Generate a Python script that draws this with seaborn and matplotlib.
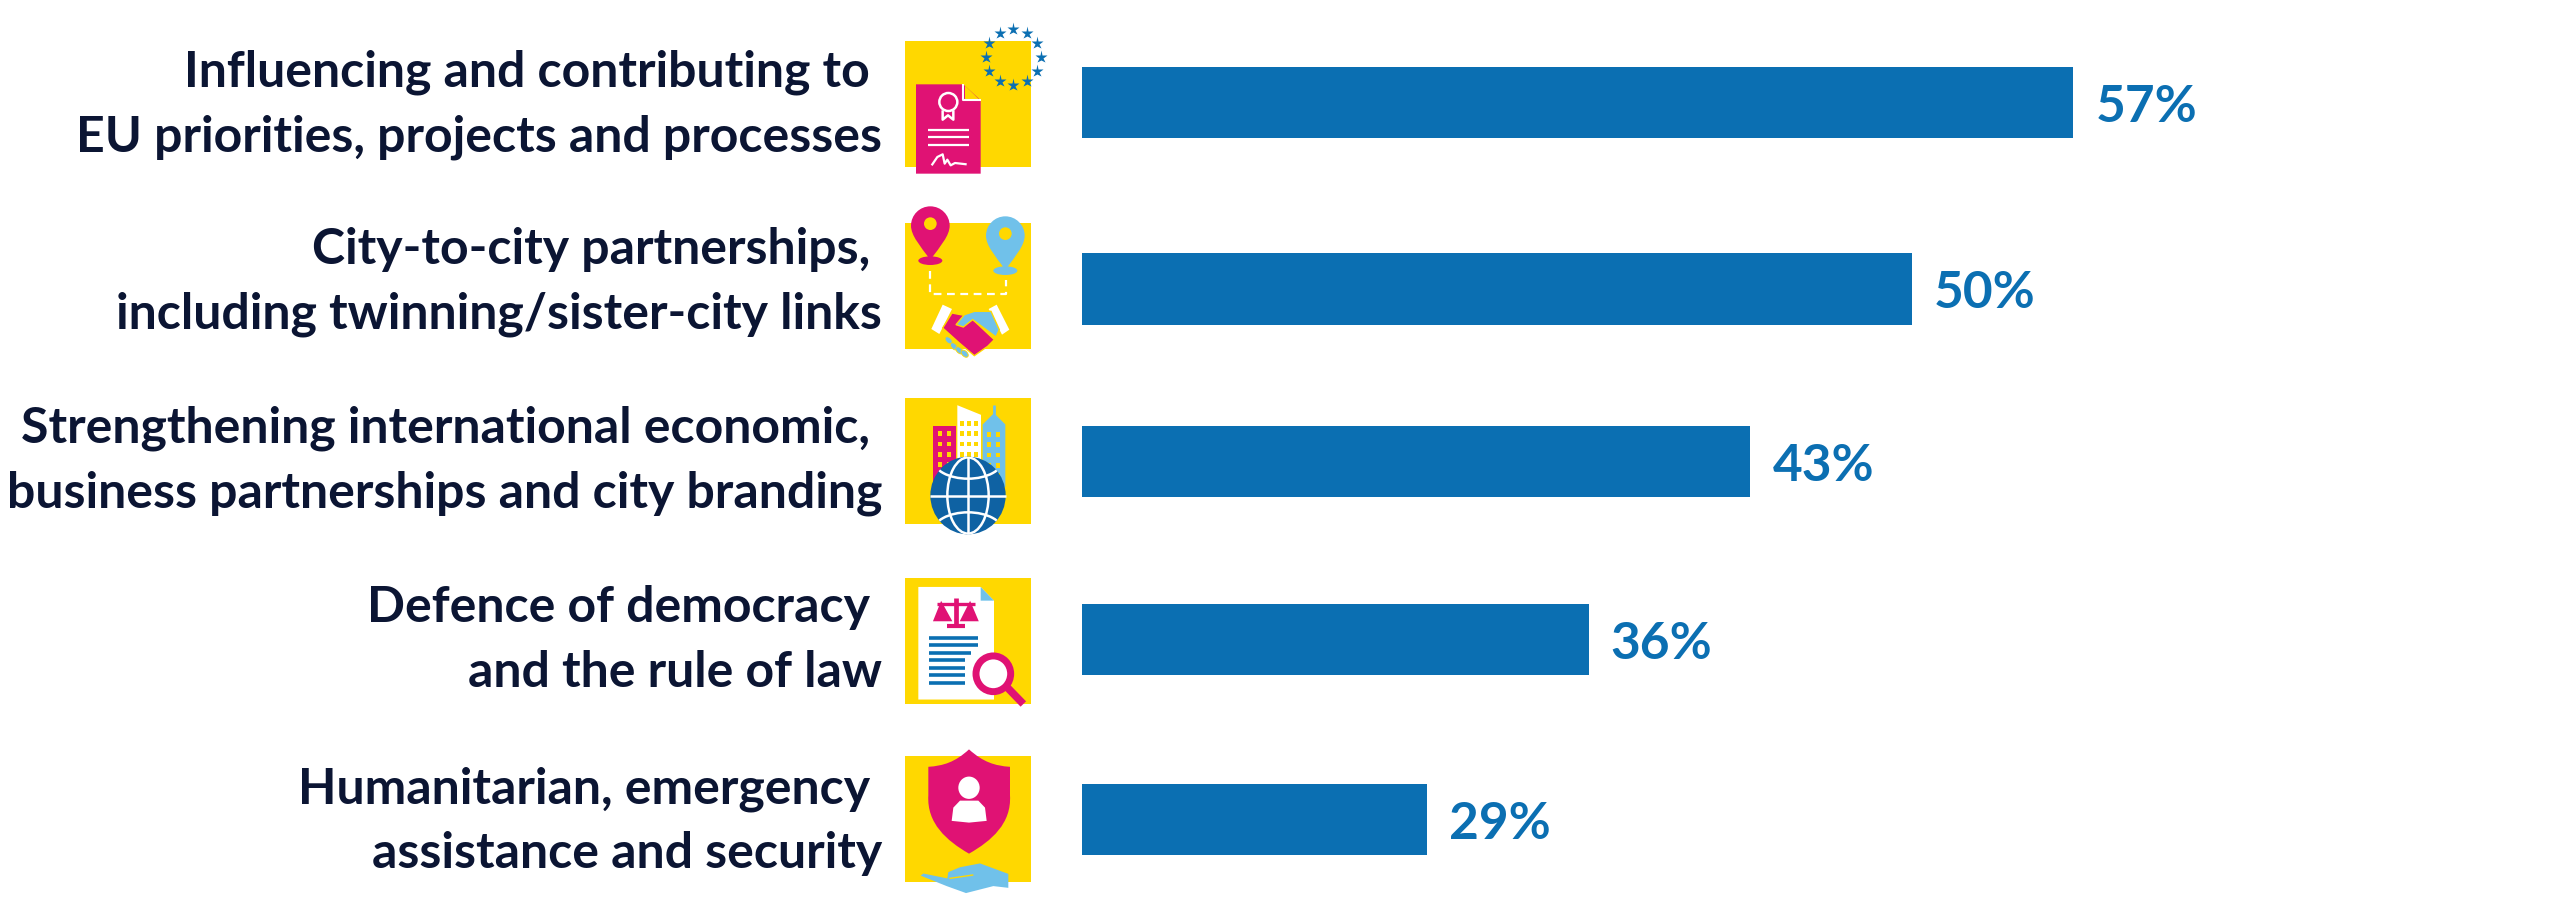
import numpy as np
import pandas as pd
import seaborn as sns
import matplotlib.pyplot as plt
from matplotlib.patches import Rectangle, Circle, Ellipse, Polygon, PathPatch
from matplotlib.path import Path
from matplotlib.transforms import Affine2D

# dados do grafico
categories = [
    "Influencing and contributing to \nEU priorities, projects and processes",
    "City-to-city partnerships, \nincluding twinning/sister-city links",
    "Strengthening international economic, \nbusiness partnerships and city branding",
    "Defence of democracy \nand the rule of law",
    "Humanitarian, emergency \nassistance and security",
]
shares = [57, 50, 43, 36, 29]

# layout em pixels
BAR_TOPS = [67, 253, 426, 604, 784]
BAR_BOTTOMS = [138, 325, 497, 675, 855]
TEXT_CENTRES = [105, 282, 461, 640, 821]
ICON_TOPS = [41, 223, 398, 578, 756]
ICON_LEFT = 905
BAR_LEFT = 1082
AXIS_START = 14.04
PX_PER_UNIT = 23.07

BLUE = "#0B6FB2"
NAVY = "#0B1533"
YELLOW = "#FFD800"
PINK = "#E01274"
SKY = "#70C1EA"
GLOBE = "#0F62A3"

W, H = 2560, 900
fig = plt.figure(figsize=(W / 100, H / 100), dpi=100, facecolor="white")

bg = fig.add_axes([0, 0, 1, 1])
bg.set_xlim(0, W)
bg.set_ylim(H, 0)
bg.axis("off")


def local(x0, y0, ox, oy, sy=1 / 3):
    # coordenadas do recorte (3x) para pixels da figura
    return Affine2D().translate(-ox, -oy).scale(1 / 3, sy).translate(x0, y0) + bg.transData


def add(p, t, z=3):
    p.set_transform(t)
    p.set_zorder(z)
    bg.add_patch(p)
    return p


def line(xs, ys, t, color="white", lw=1.6, z=4, **kw):
    return bg.plot(xs, ys, color=color, lw=lw, transform=t, zorder=z, solid_capstyle="butt", **kw)


def square(y0):
    bg.add_patch(Rectangle((ICON_LEFT, y0), 126, 126, fc=YELLOW, ec="none", zorder=2))


def pin(t, cx, cy, color, hole):
    verts = [(cx, cy + 102), (cx - 30, cy + 62), (cx - 58, cy + 30), (cx - 58, cy),
             (cx - 58, cy - 32), (cx - 32, cy - 58), (cx, cy - 58),
             (cx + 32, cy - 58), (cx + 58, cy - 32), (cx + 58, cy),
             (cx + 58, cy + 30), (cx + 30, cy + 62), (cx, cy + 102), (cx, cy + 102)]
    codes = [Path.MOVETO] + [Path.CURVE4] * 12 + [Path.CLOSEPOLY]
    add(PathPatch(Path(verts, codes), fc=color, ec="none"), t)
    add(Ellipse((cx, cy + 105), 72, 26, fc=color, ec="none"), t)
    add(Circle((cx, cy - 6), 19, fc=hole, ec="none"), t, 4)


def icon_document(y0):
    square(y0)
    t = local(ICON_LEFT, y0, 135, 122)
    add(Polygon([(168, 252), (310, 252), (362, 300), (362, 520), (168, 520)], fc=PINK, ec="none"), t)
    line([310, 310, 362], [252, 300, 300], t, lw=1.5)
    add(Polygon([(315, 256), (356, 296), (315, 296)], fc=YELLOW, ec="none"), t)
    add(Circle((265, 305), 27, fc="none", ec="white", lw=1.8), t, 4)
    line([248, 248, 264, 280, 280], [330, 358, 345, 358, 330], t, lw=1.8)
    for yy in [388, 411, 433]:
        line([203, 328], [yy, yy], t, lw=1.6)
    line([215, 232, 248, 254, 262, 272, 285, 320], [495, 470, 462, 490, 478, 495, 488, 492], t, lw=1.6)
    for a in np.arange(0, 360, 30):
        bg.plot(460 + 83 * np.cos(np.radians(a)), 170 + 83 * np.sin(np.radians(a)), marker="*",
                ms=9.5, color=BLUE, mec="none", transform=t, zorder=5)


def icon_pins(y0):
    square(y0)
    t = local(ICON_LEFT, y0, 137, 670)
    pin(t, 213, 678, PINK, YELLOW)
    pin(t, 438, 708, SKY, YELLOW)
    line([213, 213, 440, 440], [815, 882, 882, 840], t, lw=1.6, z=3.5, linestyle=(0, (3.5, 2.5)))
    # aperto de maos
    add(Polygon([(250, 915), (278, 928), (240, 1003), (216, 988)], fc="white", ec="none"), t, 4)
    add(Polygon([(412, 915), (388, 928), (428, 1005), (450, 990)], fc="white", ec="none"), t, 4)
    add(Polygon([(278, 940), (330, 950), (405, 1020), (385, 1040), (345, 1068), (300, 1030), (250, 985)],
                fc=PINK, ec=YELLOW, lw=1), t, 4)
    add(Polygon([(395, 935), (345, 935), (315, 945), (290, 975), (312, 982), (340, 960),
                 (410, 1012), (420, 990)], fc=SKY, ec=YELLOW, lw=1), t, 5)
    for cx, cy in [(268, 1022), (284, 1040), (300, 1052), (316, 1062)]:
        add(Ellipse((cx, cy), 26, 16, angle=45, fc=SKY, ec=YELLOW, lw=0.6), t, 5)


def icon_city(y0):
    square(y0)
    sy = 126 / 367
    t = local(ICON_LEFT, y0, 135, 111, sy)
    add(Rectangle((219, 192), 70, 170, fc=PINK, ec="none"), t)
    add(Polygon([(292, 132), (363, 160), (363, 320), (292, 320)], fc="white", ec="none"), t)
    add(Polygon([(368, 188), (402, 155), (436, 188), (436, 370), (368, 370)], fc=SKY, ec="none"), t)
    line([402, 402], [132, 160], t, color=SKY, lw=2)
    for xx in [233, 260]:
        for yy in [208, 238, 268, 298]:
            add(Rectangle((xx, yy), 13, 14, fc=YELLOW, ec="none"), t, 3.5)
    for xx in [301, 321, 342]:
        for yy in [178, 208, 238, 268]:
            add(Rectangle((xx, yy), 12, 14, fc=YELLOW, ec="none"), t, 3.5)
    for xx in [381, 408]:
        for yy in [210, 240, 270, 300, 330]:
            add(Rectangle((xx, yy), 13, 14, fc=YELLOW, ec="none"), t, 3.5)
    globe = add(Circle((324, 395), 113, fc=GLOBE, ec="none"), t, 4)
    parts = [Ellipse((324, 395), 124, 222, fc="none", ec="white", lw=1.8),
             Ellipse((324, 290), 210, 112, fc="none", ec="white", lw=1.8),
             Ellipse((324, 500), 210, 112, fc="none", ec="white", lw=1.8)]
    for p in parts:
        add(p, t, 5).set_clip_path(globe)
    line([211, 437], [395, 395], t, lw=1.8, z=5)
    line([324, 324], [282, 508], t, lw=1.8, z=5)


def icon_law(y0):
    square(y0)
    sy = 126 / 367
    t = local(ICON_LEFT, y0, 135, 636, sy)
    add(Polygon([(175, 662), (362, 662), (402, 702), (402, 990), (175, 990)], fc="white", ec="none"), t)
    add(Polygon([(362, 662), (402, 702), (362, 702)], fc=SKY, ec="none"), t, 3.5)
    line([288, 288], [695, 775], t, color=PINK, lw=3.4)
    line([232, 344], [712, 712], t, color=PINK, lw=2.4)
    line([260, 316], [777, 777], t, color=PINK, lw=3)
    add(Polygon([(225, 758), (244, 712), (270, 758)], fc=PINK, ec=PINK, lw=2), t, 4)
    add(Polygon([(306, 758), (330, 712), (350, 758)], fc=PINK, ec=PINK, lw=2), t, 4)
    ends = [355, 355, 333, 316, 316, 316, 316]
    for yy, xe in zip([810, 832, 854, 875, 897, 919, 941], ends):
        line([208, xe], [yy, yy], t, color=BLUE, lw=2.6, z=4)
    add(Circle((400, 915), 52, fc="white", ec=PINK, lw=5), t, 5)
    line([442, 490], [955, 1003], t, color=PINK, lw=5.5, z=5)


def icon_shield(y0):
    square(y0)
    sy = 128 / 367
    t = local(ICON_LEFT, y0, 135, 1157, sy)
    verts = [(327, 1138), (285, 1175), (250, 1185), (205, 1188),
             (205, 1270), (200, 1350), (260, 1400), (327, 1437),
             (395, 1400), (455, 1350), (450, 1270), (450, 1188),
             (405, 1185), (370, 1175), (327, 1138), (327, 1138)]
    codes = [Path.MOVETO, Path.CURVE4, Path.CURVE4, Path.CURVE4, Path.LINETO,
             Path.CURVE4, Path.CURVE4, Path.CURVE4, Path.CURVE4, Path.CURVE4, Path.CURVE4,
             Path.LINETO, Path.CURVE4, Path.CURVE4, Path.CURVE4, Path.CLOSEPOLY]
    add(PathPatch(Path(verts, codes), fc=PINK, ec="none"), t)
    add(Circle((327, 1248), 32, fc="white", ec="none"), t, 4)
    add(Polygon([(275, 1343), (280, 1305), (300, 1285), (355, 1285), (375, 1305), (380, 1343),
                 (327, 1348)], fc="white", ec="none"), t, 4)
    add(Polygon([(182, 1500), (190, 1494), (262, 1508), (265, 1490), (300, 1476), (360, 1465),
                 (445, 1495), (445, 1535), (400, 1530), (318, 1550), (260, 1530)], fc=SKY, ec="none"), t, 4)
    line([268, 340], [1508, 1498], t, color=YELLOW, lw=1, z=5)


for draw, top in zip([icon_document, icon_pins, icon_city, icon_law, icon_shield], ICON_TOPS):
    draw(top)

# textos das categorias
for cat, yc in zip(categories, TEXT_CENTRES):
    bg.text(882, yc, cat, ha="right", va="center", color=NAVY, family="Lato",
            fontweight="bold", fontsize=36, linespacing=1.52)

df = pd.DataFrame({"category": categories, "share": shares})

# uma faixa de eixos por linha, pois o espacamento nao e regular
for i, (top, bottom) in enumerate(zip(BAR_TOPS, BAR_BOTTOMS)):
    ax = fig.add_axes([BAR_LEFT / W, 1 - bottom / H, (W - BAR_LEFT) / W, (bottom - top) / H])
    ax.patch.set_alpha(0)
    sns.barplot(data=df.iloc[[i]], x="share", y="category", color=BLUE, saturation=1,
                width=1, orient="h", ax=ax)
    ax.set_xlim(AXIS_START, AXIS_START + (W - BAR_LEFT) / PX_PER_UNIT)
    for lab in ax.bar_label(ax.containers[0], fmt="%d%%", padding=16, color=BLUE, family="Lato",
                            fontweight="bold", fontsize=37):
        lab.xyann = (16, -3.5)
    ax.axis("off")

plt.savefig("out.png", dpi=100)
